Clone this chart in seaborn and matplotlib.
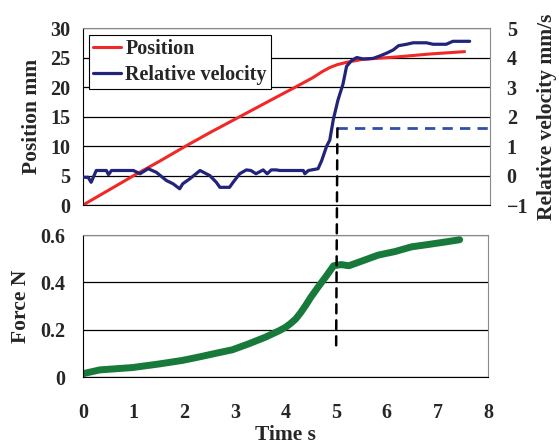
import matplotlib
matplotlib.use("Agg")
import matplotlib.pyplot as plt
from matplotlib.patches import ConnectionPatch
import seaborn as sns
import pandas as pd

# position curve (left axis, mm)
pos_time = [0, 0.5, 1.0, 1.5, 2.0, 2.5, 3.0, 3.5, 3.87, 4.2, 4.52, 4.7, 4.85,
            5.0, 5.19, 5.5, 6.17, 6.82, 7.5]
pos_mm = [0, 2.5, 5.0, 7.4, 9.9, 12.3, 14.6, 16.9, 18.6, 20.1, 21.6, 22.6, 23.3,
          23.8, 24.2, 24.7, 25.1, 25.6, 26.0]

# relative velocity (right axis, mm/s)
vel_time = [0, 0.1, 0.16, 0.26, 0.46, 0.5, 0.56, 0.99, 1.12, 1.28, 1.44, 1.64,
            1.77, 1.90, 1.96, 2.10, 2.30, 2.49, 2.62, 2.69, 2.88, 2.95, 3.08,
            3.21, 3.30, 3.40, 3.54, 3.62, 3.70, 3.80, 3.87, 4.33, 4.36, 4.43,
            4.62, 4.69, 4.79, 4.85, 4.92, 5.01, 5.11, 5.18, 5.28, 5.38, 5.51,
            5.70, 5.83, 5.97, 6.10, 6.20, 6.36, 6.49, 6.75, 6.88, 7.14, 7.27,
            7.60]
vel_mms = [-0.06, -0.06, -0.23, 0.17, 0.17, 0.03, 0.17, 0.17, 0.06, 0.23, 0.11,
           -0.17, -0.28, -0.45, -0.28, -0.11, 0.17, 0.0, -0.23, -0.40, -0.40,
           -0.23, 0.06, 0.19, 0.17, 0.06, 0.19, 0.06, 0.19, 0.19, 0.17, 0.17,
           0.06, 0.17, 0.23, 0.5, 1.0, 1.2, 1.9, 2.55, 3.1, 3.7, 3.9, 4.0, 3.95,
           3.97, 4.05, 4.15, 4.26, 4.4, 4.45, 4.5, 4.5, 4.45, 4.45, 4.55, 4.55]

# force (bottom panel, N)
force_time = [0, 0.33, 0.98, 1.5, 1.96, 2.3, 2.62, 2.95, 3.27, 3.60, 3.87, 4.0,
              4.1, 4.2, 4.3, 4.4, 4.5, 4.65, 4.8, 4.95, 5.1, 5.25, 5.51, 5.83,
              6.16, 6.49, 6.82, 7.14, 7.44]
force_n = [0.014, 0.03, 0.04, 0.055, 0.07, 0.085, 0.10, 0.115, 0.14, 0.168,
           0.195, 0.21, 0.226, 0.245, 0.272, 0.303, 0.337, 0.382, 0.425, 0.47,
           0.475, 0.47, 0.49, 0.515, 0.53, 0.55, 0.56, 0.57, 0.58]

# detection threshold marker
threshold_time = 5.0
threshold_vel = 1.6
threshold_force = 0.12

pos_df = pd.DataFrame({"t": pos_time, "v": pos_mm})
vel_df = pd.DataFrame({"t": vel_time, "v": vel_mms})
force_df = pd.DataFrame({"t": force_time, "v": force_n})

sns.set_style("white")
plt.rcParams["font.family"] = ["Liberation Serif", "DejaVu Serif"]
plt.rcParams["font.weight"] = "bold"
plt.rcParams["axes.labelweight"] = "bold"
fs_tick = 14.5
fs_lab = 15.5

fig = plt.figure(figsize=(5.59, 4.45), dpi=100)
ax_top = fig.add_axes([0.1485, 0.5393, 0.7281, 0.3977])
ax_bot = fig.add_axes([0.1485, 0.1528, 0.7245, 0.3191])
ax_vel = ax_top.twinx()

red = "#f02828"
navy = "#22247a"
green = "#187a3a"

sns.lineplot(data=pos_df, x="t", y="v", ax=ax_top, color=red, linewidth=2.2,
             label="Position", legend=False)
sns.lineplot(data=vel_df, x="t", y="v", ax=ax_vel, color=navy, linewidth=2.3,
             label="Relative velocity", legend=False)
ax_vel.plot([threshold_time, 8], [threshold_vel, threshold_vel], color="#3050a8",
            linestyle=(0, (3.7, 2.6)), linewidth=2.0)
sns.lineplot(data=force_df, x="t", y="v", ax=ax_bot, color=green, linewidth=5)

ax_top.set_xlim(0, 8)
ax_top.set_ylim(0, 30)
ax_vel.set_ylim(-1, 5)
ax_bot.set_xlim(0, 8)
ax_bot.set_ylim(0, 0.6)

ax_top.set_xticks([0, 2, 4, 6, 8])
ax_top.set_xticklabels([])
ax_top.set_yticks([0, 5, 10, 15, 20, 25, 30])
ax_vel.set_yticks([-1, 0, 1, 2, 3, 4, 5])
ax_bot.set_xticks(range(9))
ax_bot.set_yticks([0, 0.2, 0.4, 0.6])
ax_bot.set_yticklabels(["0", "0.2", "0.4", "0.6"])

for ax, ypad in ((ax_top, 9), (ax_bot, 13)):
    ax.yaxis.grid(True, color="black", linewidth=0.9)
    ax.set_axisbelow(True)
    ax.tick_params(axis="x", direction="in", length=5, width=1, color="black",
                   labelsize=fs_tick, pad=19)
    ax.tick_params(axis="y", length=0, labelsize=fs_tick, pad=ypad)
    for side in ("top", "right"):
        ax.spines[side].set_color("#8a8a8a")
    for side in ("left", "bottom"):
        ax.spines[side].set_color("black")
ax_vel.tick_params(axis="y", length=0, labelsize=fs_tick, pad=12)
for sp in ax_vel.spines.values():
    sp.set_visible(False)

ax_top.set_xlabel("")
ax_top.set_ylabel("Position mm", fontsize=fs_lab, labelpad=6)
ax_vel.set_ylabel("Relative velocity mm/s", fontsize=fs_lab, labelpad=6)
ax_bot.set_ylabel("Force N", fontsize=fs_lab, labelpad=6)
ax_bot.set_xlabel("Time s", fontsize=fs_lab, labelpad=1)

h1, l1 = ax_top.get_legend_handles_labels()
h2, l2 = ax_vel.get_legend_handles_labels()
leg = ax_vel.legend(h1 + h2, l1 + l2, loc="upper left", bbox_to_anchor=(0.015, 0.962),
                    fontsize=fs_tick, frameon=True, fancybox=False, edgecolor="black",
                    framealpha=1, borderpad=0.2, labelspacing=0.3,
                    handlelength=1.4, handletextpad=0.2, borderaxespad=0)
leg.get_frame().set_linewidth(0.8)

con = ConnectionPatch(xyA=(threshold_time, threshold_vel), coordsA=ax_vel.transData,
                      xyB=(threshold_time, threshold_force), coordsB=ax_bot.transData,
                      color="black", linestyle=(0, (3.6, 2.8)), linewidth=1.8)
fig.add_artist(con)

fig.savefig("out.png", dpi=100)
